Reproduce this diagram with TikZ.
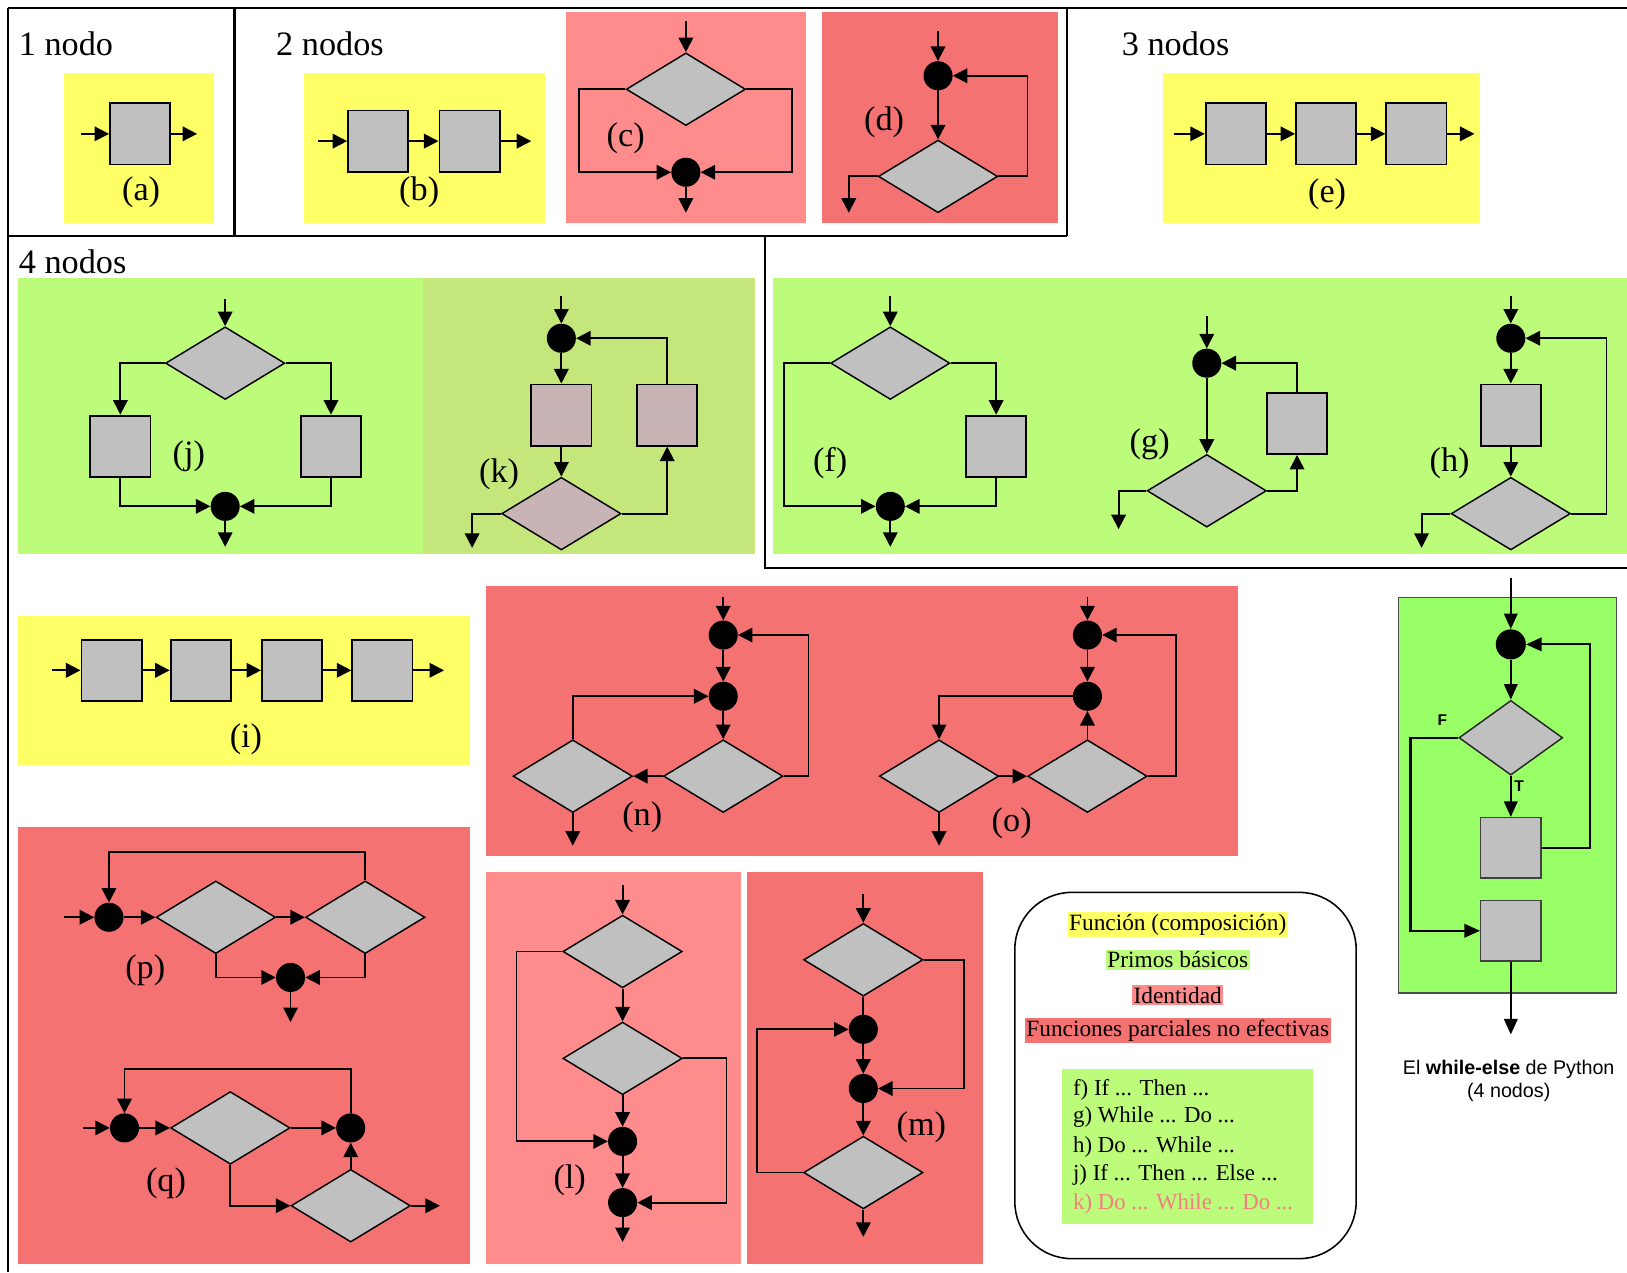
\documentclass[tikz,border=0pt]{standalone}
\usepackage{fontspec}
\setmainfont{Liberation Serif}
\newfontfamily\sansf{Liberation Sans}
\usetikzlibrary{shapes.geometric,arrows.meta,calc}
\definecolor{yel}{HTML}{FFFF66}
\definecolor{grn}{HTML}{BCFC7A}
\definecolor{olv}{HTML}{C4E67A}
\definecolor{pnk}{HTML}{FF8C8C}
\definecolor{red2}{HTML}{F47272}
\definecolor{wgrn}{HTML}{99FF66}
\definecolor{boxgray}{HTML}{C0C0C0}
\definecolor{mauve}{HTML}{C8B4B4}
\definecolor{salmon}{HTML}{F08080}
\tikzset{
  frame/.style={line width=2pt, draw=black},
  bx/.style={draw, fill=boxgray, minimum width=58pt, minimum height=59pt, inner sep=0pt, line width=1.8pt},
  dm/.style={diamond, draw, fill=boxgray, minimum width=115pt, minimum height=70pt, inner sep=0pt, line width=1.4pt},
  jn/.style={circle, fill=black, minimum size=28pt, inner sep=0pt},
  ar/.style={-{Triangle[length=14pt,width=14pt]}, line width=1.8pt},
  ln/.style={line width=1.8pt},
  lbl/.style={font=\fontsize{33}{37}\selectfont, inner sep=0pt},
  ttl/.style={font=\fontsize{33}{37}\selectfont, inner sep=0pt, anchor=west},
  leg/.style={font=\fontsize{22.5}{26}\selectfont, inner sep=1.5pt},
  wbx/.style={draw=black!75, fill=boxgray, minimum width=58pt, minimum height=58pt, inner sep=0pt, line width=1.4pt},
  war/.style={-{Triangle[length=15pt,width=13pt]}, line width=2pt},
}
\begin{document}
\begin{tikzpicture}[x=1pt,y=-1pt]
\fill[white] (0,0) rectangle (1568,1226);
\useasboundingbox (0,0) rectangle (1568,1226);

% ---------- frames ----------
\draw[frame] (8,8) -- (1568,8);
\draw[frame] (8,8) -- (8,1226);
\draw[frame] (226,8) -- (226,227);
\draw[frame] (1028,8) -- (1028,227);
\draw[frame] (8,227) -- (1028,227);
\draw[frame] (737,227) -- (737,547) -- (1568,547);

% ---------- coloured panels ----------
\fill[yel] (62,70) rectangle (206,215);
\fill[yel] (293,70) rectangle (525,215);
\fill[pnk] (545,12) rectangle (777,215);
\fill[red2] (792,12) rectangle (1020,215);
\fill[yel] (1121,70) rectangle (1426,215);
\fill[grn] (17,268) rectangle (408,534);
\fill[olv] (408,268) rectangle (728,534);
\fill[grn] (745,268) rectangle (1568,534);
\fill[yel] (17,594) rectangle (453,737);
\fill[red2] (468,565) rectangle (1193,825);
\fill[red2] (17,797) rectangle (453,1218);
\fill[pnk] (468,840) rectangle (714,1218);
\fill[red2] (720,840) rectangle (947,1218);

% ---------- titles ----------
\node[ttl] (t1) at (18,42) {1 nodo};
\node[ttl] (t2) at (266,42) {2 nodos};
\node[ttl] (t3) at (1081,42) {3 nodos};
\node[ttl] (t4) at (18,252) {4 nodos};

% ---------- (a) ----------
\node[bx] (a1) at (135,129) {};
\coordinate (aIn) at (78,129); \coordinate (aOut) at (190,129);
\draw[ar] (aIn) -- (a1); \draw[ar] (a1) -- (aOut);
\node[lbl] (la) at (136,185) {(a)};

% ---------- (b) ----------
\node[bx] (b1) at (364.5,136) {};
\node[bx] (b2) at (452.5,136) {};
\coordinate (bIn) at (306,136); \coordinate (bOut) at (512,136);
\draw[ar] (bIn) -- (b1); \draw[ar] (b1) -- (b2); \draw[ar] (b2) -- (bOut);
\node[lbl] (lb) at (404,185) {(b)};

% ---------- (c) ----------
\node[dm] (c1) at (661,86) {};
\node[jn] (cj) at (661,166) {};
\coordinate (cIn) at (661,20); \coordinate (cOut) at (661,205);
\draw[ar] (cIn) -- (c1);
\draw[ar] (c1.west) -- ++(-45,0) |- (cj);
\draw[ar] (c1.east) -- ++(44,0) |- (cj);
\draw[ar] (cj) -- (cOut);
\node[lbl] (lc) at (603,133) {(c)};

% ---------- (d) ----------
\node[jn] (dj) at (904,73) {};
\node[dm] (d1) at (904,170) {};
\coordinate (dIn) at (904,30); \coordinate (dOut) at (818,205);
\draw[ar] (dIn) -- (dj); \draw[ar] (dj) -- (d1);
\draw[ar] (d1.east) -- ++(28,0) |- (dj);
\draw[ar] (d1.west) -| (dOut);
\node[lbl] (ld) at (852,118) {(d)};

% ---------- (e) ----------
\node[bx] (e1) at (1191,129) {};
\node[bx] (e2) at (1278,129) {};
\node[bx] (e3) at (1365,129) {};
\coordinate (eIn) at (1131,129); \coordinate (eOut) at (1421,129);
\draw[ar] (eIn) -- (e1); \draw[ar] (e1) -- (e2); \draw[ar] (e2) -- (e3); \draw[ar] (e3) -- (eOut);
\node[lbl] (le) at (1279,187) {(e)};

% ---------- (j) ----------
\node[dm] (j1) at (217,350) {};
\node[bx] (jL) at (116,430) {};
\node[bx] (jR) at (319,430) {};
\node[jn] (jj) at (217,488) {};
\coordinate (jIn) at (217,288); \coordinate (jOut) at (217,527);
\draw[ar] (jIn) -- (j1);
\draw[ar] (j1.west) -| (jL);
\draw[ar] (j1.east) -| (jR);
\draw[ar] (jL) |- (jj);
\draw[ar] (jR) |- (jj);
\draw[ar] (jj) -- (jOut);
\node[lbl] (lj) at (182,440) {(j)};

% ---------- (k) ----------
\node[jn] (kj) at (541,326) {};
\node[bx, fill=mauve] (k1) at (541,400) {};
\node[dm, fill=mauve] (k2) at (541,495) {};
\node[bx, fill=mauve] (k3) at (643,400) {};
\coordinate (kIn) at (541,285); \coordinate (kOut) at (455,528);
\draw[ar] (kIn) -- (kj); \draw[ar] (kj) -- (k1); \draw[ar] (k1) -- (k2);
\draw[ar] (k2.west) -| (kOut);
\draw[ar] (k2.east) -| (k3);
\draw[ar] (k3) |- (kj);
\node[lbl] (lk) at (481,457) {(k)};

% ---------- (f) ----------
\node[dm] (f1) at (858,350) {};
\node[bx] (fB) at (960,430) {};
\node[jn] (fj) at (858,488) {};
\coordinate (fIn) at (858,285); \coordinate (fOut) at (858,527);
\draw[ar] (fIn) -- (f1);
\draw[ar] (f1.west) -- ++(-44,0) |- (fj);
\draw[ar] (f1.east) -| (fB);
\draw[ar] (fB) |- (fj);
\draw[ar] (fj) -- (fOut);
\node[lbl] (lf) at (800,446) {(f)};

% ---------- (g) ----------
\node[jn] (gj) at (1163,350) {};
\node[dm] (g1) at (1163,473) {};
\node[bx] (gB) at (1250,408) {};
\coordinate (gIn) at (1163,305); \coordinate (gOut) at (1078,510);
\draw[ar] (gIn) -- (gj); \draw[ar] (gj) -- (g1);
\draw[ar] (g1.west) -| (gOut);
\draw[ar] (g1.east) -| (gB);
\draw[ar] (gB) |- (gj);
\node[lbl] (lg) at (1108,428) {(g)};

% ---------- (h) ----------
\node[jn] (hj) at (1456,326) {};
\node[bx] (hB) at (1456,400) {};
\node[dm] (h1) at (1456,495) {};
\coordinate (hIn) at (1456,285); \coordinate (hOut) at (1370,528);
\draw[ar] (hIn) -- (hj); \draw[ar] (hj) -- (hB); \draw[ar] (hB) -- (h1);
\draw[ar] (h1.west) -| (hOut);
\draw[ar] (h1.east) -- ++(34,0) |- (hj);
\node[lbl] (lh) at (1397,446) {(h)};

% ---------- (i) ----------
\node[bx] (i1) at (107.5,646) {};
\node[bx] (i2) at (193.5,646) {};
\node[bx] (i3) at (281.5,646) {};
\node[bx] (i4) at (368.5,646) {};
\coordinate (iIn) at (50,646); \coordinate (iOut) at (428,646);
\draw[ar] (iIn) -- (i1); \draw[ar] (i1) -- (i2); \draw[ar] (i2) -- (i3); \draw[ar] (i3) -- (i4); \draw[ar] (i4) -- (iOut);
\node[lbl] (li) at (237,712) {(i)};

% ---------- (n) ----------
\node[jn] (n1) at (697,612) {};
\node[jn] (n2) at (697,671) {};
\node[dm] (nR) at (697,748) {};
\node[dm] (nL) at (552,748) {};
\coordinate (nIn) at (697,575); \coordinate (nOut) at (552,815);
\draw[ar] (nIn) -- (n1); \draw[ar] (n1) -- (n2); \draw[ar] (n2) -- (nR);
\draw[ar] (nR.east) -- ++(24,0) |- (n1);
\draw[ar] (nR.west) -- (nL.east);
\draw[ar] (nL.north) |- (n2);
\draw[ar] (nL) -- (nOut);
\node[lbl] (ln) at (619,788) {(n)};

% ---------- (o) ----------
\node[jn] (o1) at (1048,612) {};
\node[jn] (o2) at (1048,671) {};
\node[dm] (oR) at (1048,748) {};
\node[dm] (oL) at (905,748) {};
\coordinate (oIn) at (1048,575); \coordinate (oOut) at (905,815);
\draw[ar] (oIn) -- (o1); \draw[ar] (o1) -- (o2); \draw[ar] (oR) -- (o2);
\draw[ar] (oR.east) -- ++(27,0) |- (o1);
\draw[ar] (oL.east) -- (oR.west);
\draw[ar] (o2) -| (oL);
\draw[ar] (oL) -- (oOut);
\node[lbl] (lo) at (975,793) {(o)};

% ---------- (p) ----------
\node[jn] (p0) at (105,884) {};
\node[dm] (p1) at (208,884) {};
\node[dm] (p2) at (352,884) {};
\node[jn] (pj) at (280,942) {};
\coordinate (pIn) at (62,884); \coordinate (pOut) at (280,985);
\draw[ar] (pIn) -- (p0); \draw[ar] (p0) -- (p1); \draw[ar] (p1.east) -- (p2.west);
\draw[ar] (p2.north) -- ++(0,-27) -| (p0);
\draw[ar] (p1.south) |- (pj);
\draw[ar] (p2.south) |- (pj);
\draw[ar] (pj) -- (pOut);
\node[lbl] (lp) at (140,935) {(p)};

% ---------- (q) ----------
\node[jn] (q0) at (120,1087) {};
\node[dm] (q1) at (222,1087) {};
\node[jn] (q2) at (338,1087) {};
\node[dm] (q3) at (338,1162) {};
\coordinate (qIn) at (80,1087); \coordinate (qOut) at (424,1162);
\draw[ar] (qIn) -- (q0); \draw[ar] (q0) -- (q1); \draw[ar] (q1.east) -- (q2);
\draw[ar] (q2) -- ++(0,-57) -| (q0);
\draw[ar] (q1.south) |- (q3);
\draw[ar] (q3) -- (q2);
\draw[ar] (q3.east) -- (qOut);
\node[lbl] (lq) at (160,1140) {(q)};

% ---------- (l) ----------
\node[dm] (l1) at (600,917) {};
\node[dm] (l2) at (600,1020) {};
\node[jn] (lj1) at (600,1100) {};
\node[jn] (lj2) at (600,1159) {};
\coordinate (lIn) at (600,853); \coordinate (lOut) at (600,1197);
\draw[ar] (lIn) -- (l1); \draw[ar] (l1) -- (l2);
\draw[ar] (l1.west) -- ++(-44,0) |- (lj1);
\draw[ar] (l2) -- (lj1); \draw[ar] (lj1) -- (lj2);
\draw[ar] (l2.east) -- ++(42,0) |- (lj2);
\draw[ar] (lj2) -- (lOut);
\node[lbl] (ll) at (549,1137) {(l)};

% ---------- (m) ----------
\node[dm] (m1) at (832,925) {};
\node[jn] (mj1) at (832,992) {};
\node[jn] (mj2) at (832,1049) {};
\node[dm] (m2) at (832,1130) {};
\coordinate (mIn) at (832,862); \coordinate (mOut) at (832,1192);
\draw[ar] (mIn) -- (m1); \draw[ln] (m1) -- (mj1); \draw[ar] (mj1) -- (mj2);
\draw[ar] (m1.east) -- ++(39,0) |- (mj2);
\draw[ar] (mj2) -- (m2);
\draw[ar] (m2.west) -- ++(-44,0) |- (mj1);
\draw[ar] (m2) -- (mOut);
\node[lbl] (lm) at (888,1086) {(m)};

% ---------- legend ----------
\draw[line width=1.5pt, rounded corners=55pt] (978,860) rectangle (1307,1213);
\node[leg, fill=yel] (g1t) at (1135,891) {Función (composición)};
\node[leg, fill=grn] (g2t) at (1135,925) {Primos básicos};
\node[leg, fill=pnk] (g3t) at (1135,959) {Identidad};
\node[leg, fill=red2] (g4t) at (1135,993) {Funciones parciales no efectivas};
\fill[grn] (1023,1030) rectangle (1265,1180);
\begin{scope}[every node/.style={font=\fontsize{22}{25}\selectfont, anchor=west, inner sep=0pt}]
\node (r1) at (1034,1050) {f) If ... Then ...};
\node (r2) at (1034,1077) {g) While ... Do ...};
\node (r3) at (1034,1105) {h) Do ... While ...};
\node (r4) at (1034,1132) {j) If ... Then ... Else ...};
\node[text=salmon] (r5) at (1034,1160) {k) Do ... While ... Do ...};
\end{scope}

% ---------- while-else ----------
\draw[fill=wgrn, draw=black!70, line width=1.2pt] (1348,576) rectangle (1558,957);
\node[jn, minimum size=29pt] (wj) at (1456,621) {};
\node[dm, minimum width=100pt, minimum height=72pt, line width=1.4pt, draw=black!85] (w1) at (1456,711) {};
\node[wbx] (wB1) at (1456,817) {};
\node[wbx] (wB2) at (1456,897) {};
\coordinate (wIn) at (1456,557); \coordinate (wOut) at (1456,997);
\draw[war] (wIn) -- (wj); \draw[war] (wj) -- (w1); \draw[war] (w1) -- (wB1);
\draw[war] (wB1.east) -- ++(47,0) |- (wj);
\draw[war] (w1.west) -- ++(-46,0) |- (wB2);
\draw[war] (wB2) -- (wOut);
\node[font=\sansf\bfseries\fontsize{15}{18}\selectfont] (wF) at (1390,694) {F};
\node[font=\sansf\bfseries\fontsize{15}{18}\selectfont] (wT) at (1464,758) {T};
\node[font=\sansf\fontsize{19}{22}\selectfont, align=center] (wtxt) at (1454,1042) {El \textbf{while-else} de Python\\(4 nodos)};
\end{tikzpicture}
\end{document}
